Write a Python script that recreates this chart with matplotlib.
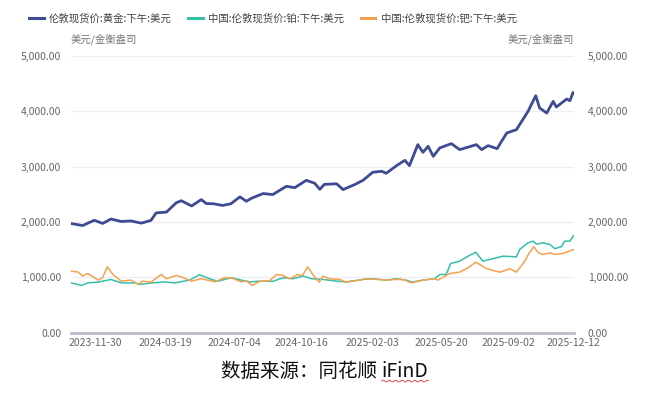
import numpy as np
import pandas as pd
import matplotlib.pyplot as plt
import matplotlib.dates as mdates
from matplotlib.ticker import FuncFormatter

plt.rcParams['font.family'] = ['Noto Sans CJK SC', 'DejaVu Sans']

# London PM fix, gold (USD/oz)
gold_dates = ['2023-10-24', '2023-11-11', '2023-11-29', '2023-12-12', '2023-12-25',
              '2024-01-10', '2024-01-25', '2024-02-10', '2024-02-25', '2024-03-04',
              '2024-03-20', '2024-04-04', '2024-04-12', '2024-04-28', '2024-05-13',
              '2024-05-21', '2024-06-01', '2024-06-15', '2024-06-28', '2024-07-12',
              '2024-07-22', '2024-07-30', '2024-08-17', '2024-09-01', '2024-09-22',
              '2024-10-05', '2024-10-23', '2024-11-05', '2024-11-13', '2024-11-20',
              '2024-12-09', '2024-12-19', '2025-01-06', '2025-01-19', '2025-02-03',
              '2025-02-17', '2025-02-24', '2025-03-12', '2025-03-25', '2025-04-01',
              '2025-04-14', '2025-04-22', '2025-04-30', '2025-05-08', '2025-05-18',
              '2025-06-05', '2025-06-18', '2025-07-14', '2025-07-22', '2025-08-01',
              '2025-08-15', '2025-08-30', '2025-09-14', '2025-10-02', '2025-10-14',
              '2025-10-20', '2025-10-31', '2025-11-10', '2025-11-15', '2025-12-01',
              '2025-12-06', '2025-12-11', '2025-12-12']
gold = [1973, 1937, 2032, 1975, 2055,
        2010, 2020, 1980, 2030, 2165,
        2180, 2346, 2385, 2290, 2405,
        2333, 2330, 2300, 2330, 2454,
        2375, 2430, 2514, 2496, 2645,
        2620, 2753, 2700, 2590, 2680,
        2690, 2586, 2676, 2753, 2898,
        2916, 2880, 3018, 3114, 3018,
        3397, 3258, 3366, 3186, 3337,
        3415, 3307, 3397, 3307, 3379,
        3325, 3607, 3667, 3997, 4280,
        4058, 3967, 4177, 4076, 4220,
        4190, 4340, 4330]

# China: London spot platinum (USD/oz)
plat_dates = ['2023-10-24', '2023-11-09', '2023-11-19', '2023-12-05', '2023-12-25',
              '2024-01-10', '2024-01-31', '2024-02-07', '2024-02-25', '2024-03-17',
              '2024-04-02', '2024-04-25', '2024-05-10', '2024-05-29', '2024-06-08',
              '2024-06-29', '2024-07-14', '2024-07-27', '2024-08-12', '2024-09-01',
              '2024-09-17', '2024-10-02', '2024-10-18', '2024-10-31', '2024-11-18',
              '2024-12-09', '2024-12-24', '2025-01-19', '2025-02-03', '2025-02-24',
              '2025-03-12', '2025-03-27', '2025-04-05', '2025-04-22', '2025-05-10',
              '2025-05-18', '2025-05-28', '2025-06-04', '2025-06-18', '2025-07-01',
              '2025-07-13', '2025-07-24', '2025-08-24', '2025-09-14', '2025-09-19',
              '2025-10-02', '2025-10-10', '2025-10-15', '2025-10-25', '2025-11-05',
              '2025-11-13', '2025-11-23', '2025-11-28', '2025-12-06', '2025-12-12']
platinum = [902, 856, 902, 916, 964,
            902, 902, 874, 900, 920,
            902, 952, 1049, 964, 934,
            995, 952, 920, 934, 930,
            995, 977, 1024, 977, 964,
            934, 920, 964, 977, 952,
            977, 952, 916, 952, 977,
            1054, 1054, 1252, 1294, 1384,
            1456, 1294, 1384, 1372, 1505,
            1625, 1655, 1600, 1625, 1595,
            1518, 1560, 1655, 1655, 1757]

# London spot palladium (USD/oz)
pall_dates = ['2023-10-24', '2023-11-04', '2023-11-11', '2023-11-19', '2023-12-05',
              '2023-12-12', '2023-12-19', '2023-12-28', '2024-01-10', '2024-01-25',
              '2024-02-05', '2024-02-12', '2024-02-25', '2024-03-12', '2024-03-20',
              '2024-04-04', '2024-04-12', '2024-04-28', '2024-05-13', '2024-06-03',
              '2024-06-18', '2024-06-29', '2024-07-14', '2024-07-22', '2024-07-31',
              '2024-08-12', '2024-08-27', '2024-09-07', '2024-09-17', '2024-09-27',
              '2024-10-10', '2024-10-17', '2024-10-25', '2024-11-02', '2024-11-12',
              '2024-11-18', '2024-11-28', '2024-12-14', '2024-12-24', '2025-01-14',
              '2025-01-24', '2025-02-09', '2025-02-24', '2025-03-12', '2025-03-23',
              '2025-04-04', '2025-04-22', '2025-05-10', '2025-05-15', '2025-06-03',
              '2025-06-18', '2025-07-01', '2025-07-13', '2025-07-30', '2025-08-19',
              '2025-09-04', '2025-09-14', '2025-09-27', '2025-10-04', '2025-10-11',
              '2025-10-18', '2025-10-25', '2025-11-05', '2025-11-13', '2025-11-25',
              '2025-12-12']
palladium = [1114, 1097, 1024, 1072, 952,
             995, 1193, 1054, 934, 952,
             874, 934, 916, 1054, 977,
             1036, 1010, 934, 977, 922,
             995, 990, 922, 940, 856,
             934, 940, 1054, 1036, 977,
             1054, 1030, 1193, 1054, 916,
             1024, 977, 964, 916, 952,
             977, 965, 952, 965, 960,
             902, 952, 977, 952, 1072,
             1096, 1175, 1276, 1157, 1096,
             1157, 1096, 1294, 1445, 1553,
             1445, 1415, 1445, 1415, 1432,
             1505]

tick_dates = ['2023-11-30', '2024-03-19', '2024-07-04', '2024-10-16',
              '2025-02-03', '2025-05-20', '2025-09-02', '2025-12-12']
yticks = [0, 1000, 2000, 3000, 4000, 5000]

names = ['伦敦现货价:黄金:下午:美元', '中国:伦敦现货价:铂:下午:美元', '中国:伦敦现货价:钯:下午:美元']
colors = ['#3e4a91', '#35bfa9', '#f5a24f']

fig = plt.figure(figsize=(6.58, 3.93), dpi=100)
ax = fig.add_axes([0.108, 0.153, 0.764, 0.705])

ax.plot(pd.to_datetime(gold_dates), gold, color=colors[0], lw=2.0, label=names[0], zorder=3)
ax.plot(pd.to_datetime(plat_dates), platinum, color=colors[1], lw=1.1, label=names[1], zorder=2)
ax.plot(pd.to_datetime(pall_dates), palladium, color=colors[2], lw=1.1, label=names[2], zorder=2)

ax.set_xlim(pd.Timestamp('2023-10-24'), pd.Timestamp('2025-12-12'))
ax.set_ylim(0, 5000)
ax.set_yticks(yticks)
fmt = FuncFormatter(lambda v, p: f'{v:,.2f}')
ax.yaxis.set_major_formatter(fmt)
ax.set_xticks(pd.to_datetime(tick_dates))
ax.xaxis.set_major_formatter(mdates.DateFormatter('%Y-%m-%d'))
ax.grid(axis='y', color='#eceef5', lw=0.9)
ax.set_axisbelow(True)
for s in ['top', 'right', 'left']:
    ax.spines[s].set_visible(False)
ax.spines['bottom'].set_color('#b9bdcc')
ax.spines['bottom'].set_linewidth(2)
ax.tick_params(length=0, labelsize=7.5, colors='#666666')
ax.tick_params(axis='x', pad=4)
ax.tick_params(axis='y', pad=7)

ax2 = ax.twinx()
ax2.set_ylim(0, 5000)
ax2.set_yticks(yticks)
ax2.yaxis.set_major_formatter(fmt)
for s in ax2.spines.values():
    s.set_visible(False)
ax2.tick_params(length=0, labelsize=7.5, colors='#666666', pad=10)

fig.text(0.108, 0.9, '美元/金衡盎司', fontsize=7.5, color='#777777', va='center')
fig.text(0.872, 0.9, '美元/金衡盎司', fontsize=7.5, color='#777777', va='center', ha='right')

leg = fig.legend(loc='center left', bbox_to_anchor=(0.03, 0.952), ncol=3, frameon=False,
                 fontsize=7.5, handlelength=1.4, handletextpad=0.5, columnspacing=1.6,
                 labelcolor='#444444')
for h in leg.get_lines():
    h.set_linewidth(2.2)

# caption with spell-check style wavy underline under "iFinD"
fig.text(0.58, 0.055, '数据来源：同花顺 ', fontsize=14, color='#111111',
         ha='right', va='center')
t = fig.text(0.58, 0.055, 'iFinD', fontsize=14, color='#111111', ha='left', va='center')
fig.canvas.draw()
bb = t.get_window_extent().transformed(fig.transFigure.inverted())
wx = np.linspace(bb.x0, bb.x1, 80)
wy = bb.y0 + 0.002 + 0.0022 * np.sin((wx - bb.x0) * 658 / 1.0)
fig.add_artist(plt.Line2D(wx, wy, color='#e03030', lw=0.6, transform=fig.transFigure))

fig.savefig('out.png', dpi=100, facecolor='white')
